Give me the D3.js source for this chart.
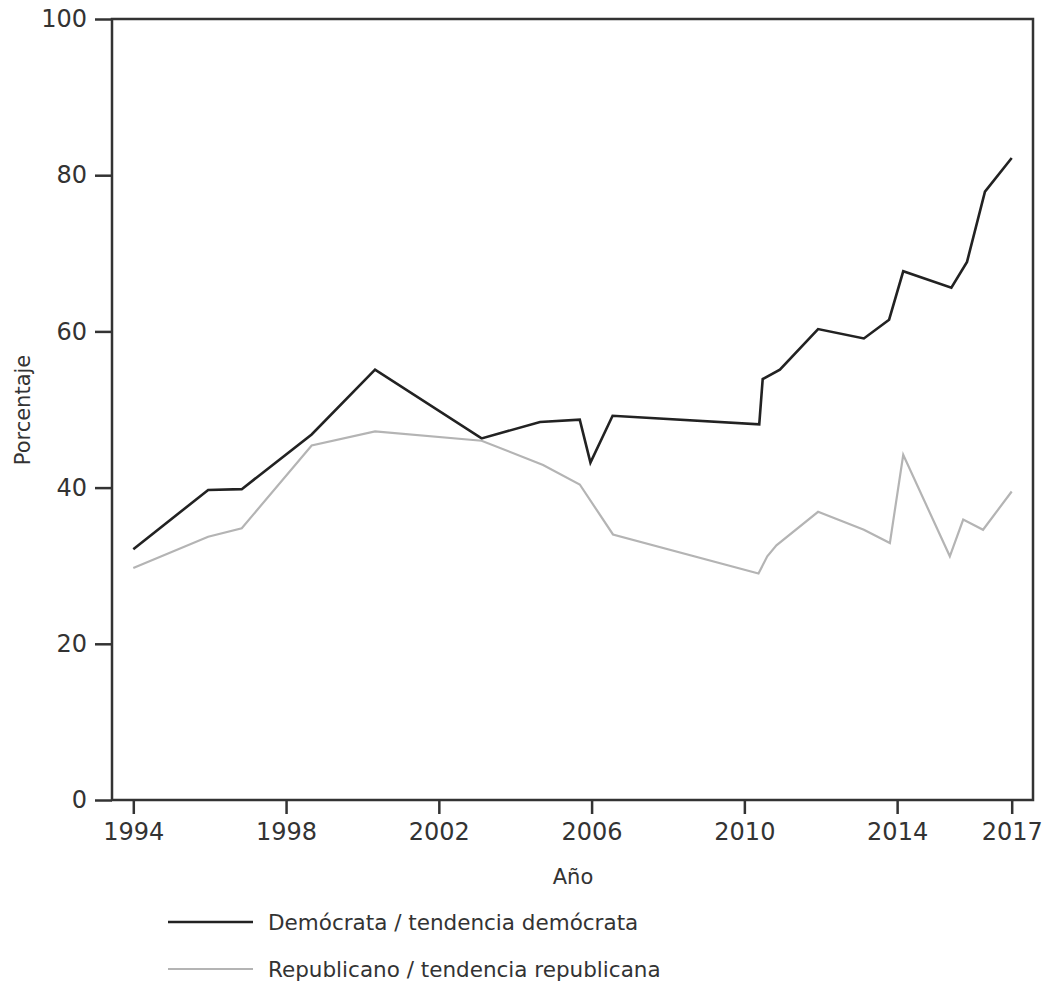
<!DOCTYPE html>
<html>
<head>
<meta charset="utf-8">
<script src="https://cdn.jsdelivr.net/npm/d3@7"></script>
<style>
  body { margin: 0; background: #fff; }
  .axis text { font-family: "DejaVu Sans", sans-serif; font-size: 24px; fill: #333; }
  .axis line { stroke: #333; stroke-width: 2.5; }
</style>
</head>
<body>
<script>
// chart data
var demYears = [1994, 1995.96, 1996.84, 1998.67, 2000.33, 2003.12, 2004.65, 2005.69, 2005.97, 2006.55, 2010.39, 2010.48, 2010.93, 2011.93, 2013.13, 2013.79, 2014.16, 2015.42, 2015.83, 2016.3, 2017];
var demValues = [32.1, 39.7, 39.8, 46.8, 55.1, 46.3, 48.4, 48.7, 43.2, 49.2, 48.1, 53.9, 55.1, 60.3, 59.1, 61.5, 67.7, 65.6, 68.9, 77.9, 82.2];

var repYears = [1994, 1995.96, 1996.84, 1998.67, 2000.33, 2003.12, 2004.73, 2005.69, 2006.56, 2010.37, 2010.6, 2010.84, 2011.93, 2013.13, 2013.81, 2014.16, 2015.38, 2015.73, 2016.25, 2017];
var repValues = [29.7, 33.7, 34.8, 45.4, 47.2, 46.0, 42.9, 40.4, 34.0, 29.0, 31.2, 32.6, 36.9, 34.6, 32.9, 44.2, 31.2, 35.9, 34.6, 39.5];

var yearTicks = [1994, 1998, 2002, 2006, 2010, 2014, 2017];
var pctTicks = [0, 20, 40, 60, 80, 100];

var seriesNames = ["Demócrata / tendencia demócrata", "Republicano / tendencia republicana"];
var seriesColors = ["#222222", "#b4b4b4"];

// plot box
var box = {left: 112, right: 1033, top: 19, bottom: 800};

var svg = d3.select("body")
  .append("svg")
  .attr("width", 1045)
  .attr("height", 982);

// scales
var x = d3.scaleLinear()
  .domain([1994, 2017])
  .range([133.3, 1011.7]);

var y = d3.scaleLinear()
  .domain([0, 100])
  .range([box.bottom, box.top]);

// lines
var line = d3.line()
  .x(function(d) { return x(d[0]); })
  .y(function(d) { return y(d[1]); });

var series = [
  d3.zip(demYears, demValues),
  d3.zip(repYears, repValues)
];

svg.selectAll(".series")
  .data(series)
  .enter()
  .append("path")
  .attr("class", "series")
  .attr("d", line)
  .attr("fill", "none")
  .attr("stroke", function(d, i) { return seriesColors[i]; })
  .attr("stroke-width", function(d, i) { return i == 0 ? 2.6 : 2.2; })
  .attr("stroke-linejoin", "miter");

// frame
svg.append("rect")
  .attr("x", box.left)
  .attr("y", box.top)
  .attr("width", box.right - box.left)
  .attr("height", box.bottom - box.top)
  .attr("fill", "none")
  .attr("stroke", "#333")
  .attr("stroke-width", 2.5);

// axes
var xAxis = d3.axisBottom(x)
  .tickValues(yearTicks)
  .tickFormat(d3.format("d"))
  .tickSize(14)
  .tickPadding(9);

var yAxis = d3.axisLeft(y)
  .tickValues(pctTicks)
  .tickSize(17)
  .tickPadding(8);

svg.append("g")
  .attr("class", "axis")
  .attr("transform", "translate(0," + box.bottom + ")")
  .call(xAxis)
  .call(function(g) { g.select(".domain").remove(); });

svg.append("g")
  .attr("class", "axis")
  .attr("transform", "translate(" + box.left + ",0)")
  .call(yAxis)
  .call(function(g) { g.select(".domain").remove(); });

// axis titles
svg.append("text")
  .attr("x", 573)
  .attr("y", 884)
  .style("text-anchor", "middle")
  .style("font-family", "DejaVu Sans, sans-serif")
  .style("font-size", "21px")
  .style("fill", "#333")
  .text("Año");

svg.append("text")
  .attr("transform", "translate(30,410) rotate(-90)")
  .style("text-anchor", "middle")
  .style("font-family", "DejaVu Sans, sans-serif")
  .style("font-size", "21px")
  .style("fill", "#333")
  .text("Porcentaje");

// legend
var legend = svg.selectAll(".legend")
  .data(seriesNames)
  .enter()
  .append("g")
  .attr("class", "legend")
  .attr("transform", function(d, i) { return "translate(168," + (922 + i * 47) + ")"; });

legend.append("line")
  .attr("x1", 0)
  .attr("x2", 85)
  .attr("stroke", function(d, i) { return seriesColors[i]; })
  .attr("stroke-width", function(d, i) { return i == 0 ? 2.6 : 2.2; });

legend.append("text")
  .attr("x", 100)
  .attr("dy", "0.35em")
  .style("font-family", "DejaVu Sans, sans-serif")
  .style("font-size", "21.5px")
  .style("fill", "#333")
  .text(function(d) { return d; });
</script>
</body>
</html>
